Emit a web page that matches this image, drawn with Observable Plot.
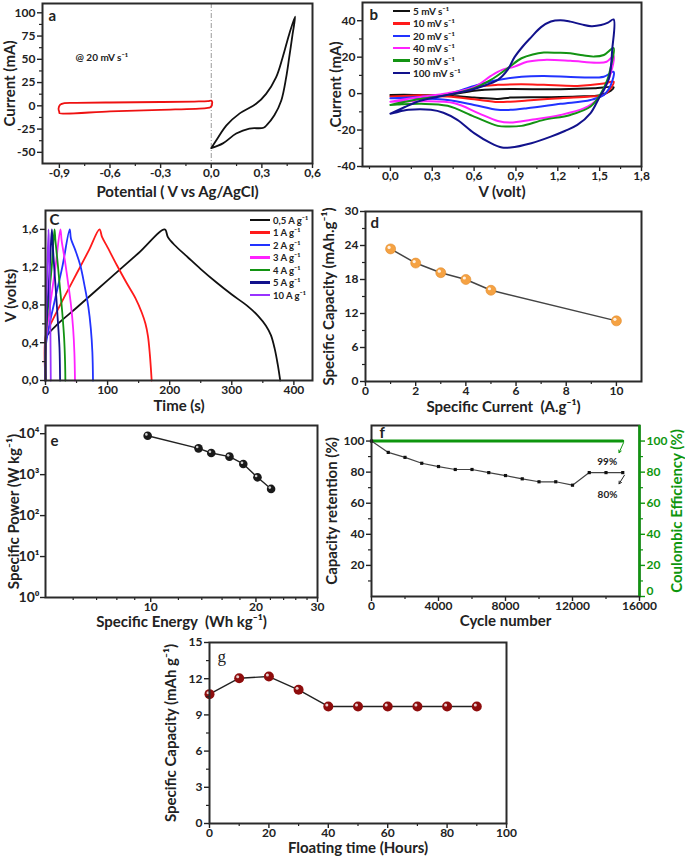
<!DOCTYPE html>
<html><head><meta charset="utf-8">
<script src="https://cdn.jsdelivr.net/npm/d3@7"></script>
<script src="https://cdn.jsdelivr.net/npm/@observablehq/plot@0.6"></script>
<style>
html,body{margin:0;padding:0;background:#fff;}
#fig{position:relative;width:685px;height:860px;overflow:hidden;background:#fff;font-family:Lato,sans-serif;}
</style></head>
<body><div id="fig"></div>
<script>
// ---------- Panel a : CV vs Ag/AgCl (V, mA) ----------
const cvNegAgCl = [[-0.9,-6.8],[-0.905,-3],[-0.895,1.2],[-0.87,2.9],[-0.8,3.2],[-0.6,3.6],[-0.3,4.1],[-0.1,4.6],[-0.02,5],[0.0,5.6],[0.006,3.5],[-0.004,-1.4],[-0.03,-2.4],[-0.3,-4.3],[-0.6,-5.9],[-0.9,-7.8],[-0.9,-6.8]];
const cvPosAgCl = [[0,-45.5],[0.03,-37],[0.09,-21],[0.167,-8.4],[0.266,2.2],[0.325,12.9],[0.384,30.6],[0.423,52],[0.462,77],[0.497,96],[0.482,77],[0.462,52],[0.444,30.6],[0.415,5.8],[0.374,-10.2],[0.33,-20.5],[0.31,-23.6],[0.226,-24.4],[0.148,-29.8],[0.069,-40.4],[0,-45.5]];
const refLineA = [0];
const xTicksA = [-0.9,-0.6,-0.3,0,0.3,0.6], xMinorA = [-0.75,-0.45,-0.15,0.15,0.45];
const yTicksA = [-50,-25,0,25,50,75,100], yMinorA = [-37.5,-12.5,12.5,37.5,62.5,87.5];

// ---------- Panel b : CV at scan rates (V, mA) ----------
const scanNames = ["5 mV s\u207B\u00B9","10 mV s\u207B\u00B9","20 mV s\u207B\u00B9","40 mV s\u207B\u00B9","50 mV s\u207B\u00B9","100 mV s\u207B\u00B9"];
const scanColors = ["#111111","#ff1a1a","#2233ff","#ff22ff","#139313","#12128c"];
const cv5 = [[0,-0.7],[0.41,-0.7],[0.6,1.6],[0.77,2.4],[1.22,2.4],[1.46,2.9],[1.6,3.5],[1.58,1.6],[1.51,-0.7],[1.34,-1.6],[1.1,-2],[0.86,-2.2],[0.77,-2.9],[0.6,-2.2],[0.41,-1.1],[0.17,-0.7],[0,-0.7]];
const cv10 = [[0,-1.6],[0.17,-1],[0.41,-0.5],[0.6,3.5],[0.77,4.8],[0.94,5.1],[1.1,4.8],[1.34,4.2],[1.53,5.5],[1.6,6.6],[1.58,3],[1.53,-0.7],[1.435,-1.6],[1.22,-2.5],[0.98,-3.8],[0.86,-4.4],[0.77,-4.6],[0.6,-3.1],[0.41,-1.6],[0.17,-1.3],[0,-1.6]];
const cv20 = [[0,-2.5],[0.17,-2],[0.41,-0.2],[0.6,4.2],[0.77,7.5],[0.94,9.3],[1.1,9.7],[1.34,9],[1.53,9.3],[1.6,12],[1.58,4.8],[1.53,-0.7],[1.435,-3.5],[1.22,-5.6],[0.98,-8],[0.86,-8.9],[0.77,-8.9],[0.6,-6.2],[0.41,-3.5],[0.17,-2.6],[0,-2.5]];
const cv40 = [[0,-4.4],[0.2,-2],[0.41,0.2],[0.6,3.5],[0.72,9.7],[0.8,13],[0.89,14.8],[0.98,17.5],[1.1,18.5],[1.29,18],[1.48,17],[1.55,17.5],[1.6,20.7],[1.58,11.2],[1.54,3.8],[1.48,-3.5],[1.39,-8],[1.22,-11.7],[1.01,-14.4],[0.86,-15.9],[0.77,-15],[0.63,-10.7],[0.46,-5.3],[0.22,-4.2],[0,-4.4]];
const cv50 = [[0,-6.2],[0.17,-3.5],[0.41,-0.7],[0.6,3],[0.72,7.5],[0.84,13.9],[0.94,19.4],[1.02,21.5],[1.1,22.5],[1.2,22.4],[1.29,22.1],[1.38,21],[1.46,20.3],[1.53,21.2],[1.6,25],[1.58,14.8],[1.555,7.5],[1.51,0.2],[1.435,-7.1],[1.29,-11.7],[1.1,-14.4],[0.94,-17.7],[0.84,-18.1],[0.77,-17.7],[0.6,-12.6],[0.41,-6.7],[0.22,-5.6],[0.05,-6],[0,-6.2]];
const cv100 = [[0,-11],[0.1,-7.5],[0.22,-3.8],[0.41,-0.7],[0.55,1.5],[0.65,3.8],[0.77,7.5],[0.84,13],[0.89,20],[0.95,26],[1.01,31],[1.08,36.5],[1.15,39.6],[1.22,40.3],[1.29,39.5],[1.37,38],[1.44,37],[1.51,37.6],[1.56,39],[1.6,40.7],[1.59,24],[1.57,9.3],[1.53,2],[1.495,-2.5],[1.435,-10.7],[1.34,-17.2],[1.25,-20.5],[1.15,-23.6],[1.01,-27.2],[0.86,-29.6],[0.8,-29.6],[0.72,-27.2],[0.6,-21.7],[0.48,-14.4],[0.38,-10.5],[0.29,-8.9],[0.13,-8.9],[0.03,-10.5],[0,-11]];
const cvScans = [cv5,cv10,cv20,cv40,cv50,cv100];
const xTicksB = [0,0.3,0.6,0.9,1.2,1.5,1.8], xMinorB = [-0.15,0.15,0.45,0.75,1.05,1.35,1.65];
const yTicksB = [-40,-20,0,20,40], yMinorB = [-30,-10,10,30];

// ---------- Panel c : GCD (s, V) ----------
const gcdNames = ["0,5 A g\u207B\u00B9","1 A g\u207B\u00B9","2 A g\u207B\u00B9","3 A g\u207B\u00B9","4 A g\u207B\u00B9","5 A g\u207B\u00B9","10 A g\u207B\u00B9"];
const gcdColors = ["#111111","#ff1a1a","#2233ff","#ff22ff","#139313","#12128c","#9933ff"];
const gcd05 = [[0,0],[0.5,0.42],[3,0.48],[20,0.6],[50,0.77],[100,1.06],[150,1.35],[192,1.6],[197,1.52],[207,1.44],[230,1.3],[250,1.18],[275,1.04],[300,0.91],[325,0.79],[343,0.68],[355,0.58],[363,0.48],[369,0.34],[374,0.17],[378,0]];
const gcd1 = [[0,0],[0.5,0.48],[10,0.62],[30,0.88],[50,1.13],[70,1.38],[87,1.6],[91,1.52],[100,1.41],[115,1.22],[130,1.04],[145,0.87],[155,0.72],[161,0.6],[165,0.47],[168,0.28],[171,0]];
const gcd2 = [[0,0],[0.3,0.35],[5,0.55],[15,0.85],[27,1.2],[39,1.6],[41,1.5],[48,1.38],[56,1.22],[63,1.0],[69,0.78],[73,0.55],[75.5,0.3],[76.5,0]];
const gcd3 = [[0,0],[0.3,0.4],[8,0.82],[16,1.2],[24,1.6],[26,1.48],[31,1.28],[36,1.05],[41,0.8],[44.5,0.55],[46.5,0.3],[47.5,0]];
const gcd4 = [[0,0],[0.2,0.4],[5,0.85],[10,1.2],[14.5,1.6],[16,1.48],[19.5,1.25],[23,1.0],[27,0.72],[30,0.45],[31.5,0.2],[32,0]];
const gcd5 = [[0,0],[0.2,0.4],[3.5,0.85],[7,1.2],[10.2,1.6],[11.5,1.45],[14,1.2],[17,0.92],[20,0.62],[22.5,0.35],[23.5,0]];
const gcd10 = [[0,0],[0.1,0.4],[2,0.95],[4.8,1.6],[5.5,1.42],[6.5,1.12],[7.4,0.78],[8,0.45],[8.5,0]];
const gcdCurves = [gcd05,gcd1,gcd2,gcd3,gcd4,gcd5,gcd10];
const xTicksC = [0,100,200,300,400], xMinorC = [50,150,250,350];
const yTicksC = [0,0.4,0.8,1.2,1.6], yMinorC = [0.2,0.6,1.0,1.4];

// ---------- Panel d ----------
const currentD = [1,2,3,4,5,10];
const capacityD = [23.4,20.9,19.2,18.0,16.1,10.7];
const xTicksD = [0,2,4,6,8,10], xMinorD = [1,3,5,7,9];
const yTicksD = [0,6,12,18,24,30], yMinorD = [3,9,15,21,27];

// ---------- Panel e ----------
const energyE = [9.8,13.7,14.9,16.8,18.4,20.2,22.1];
const powerE = [8930,4380,3380,2750,1820,860,448];
const xTicksE = [10,20,30], xMinorE = [6,7,8,9,12,14,16,18,22,24,26,28];
const yTicksE = [1,10,100,1000,10000];

// ---------- Panel f ----------
const cycles = [0,1000,2000,3000,4000,5000,6000,7000,8000,9000,10000,11000,12000,13000,14000,15000];
const retention = [100,92.7,89.5,85.7,83.6,81.7,81.7,79.7,77.8,75.7,73.8,73.8,71.6,79.7,79.7,79.7];
const ceCycles = [0,15000];
const coulombic = [100,100];
const xDomainF = [0,16000];
const xTicksF = [0,4000,8000,12000,16000], xMinorF = [2000,6000,10000,14000];
const yTicksF = [20,40,60,80,100], yTicksFR = [20,40,60,80,100], yZeroFR = [0], yMinorF = [10,30,50,70,90];
const noteTextF = ["99%","80%"], noteXF = [14070,14090], noteYF = [86.7,65.4];
const arrowsF = [{x1:15050,y1:99,x2:14780,y2:92.5,c:"#0e960e"},{x1:15100,y1:78,x2:14780,y2:72.5,c:"#222"}];

// ---------- Panel g ----------
const floatHours = [0,10,20,30,40,50,60,70,80,90];
const capacityG = [10.72,12.04,12.18,11.08,9.7,9.7,9.7,9.7,9.7,9.7];
const xTicksG = [0,20,40,60,80,100], xMinorG = [10,30,50,70,90];
const yTicksG = [0,3,6,9,12,15], yMinorG = [1.5,4.5,7.5,10.5,13.5];

// ================= drawing =================
const fig = document.getElementById("fig");
const GREEN = "#0e960e";
const comma = d => d.toFixed(1).replace(".", ",");
const plain = d => String(d);
const sup = {"0":"\u2070","1":"\u00B9","2":"\u00B2","3":"\u00B3","4":"\u2074"};
const FONT = "Lato, 'Open Sans', sans-serif";

function panel({box, m, x, y, marks}) {
  const [L,T,R,B] = box, [mt,mr,mb,ml] = m;
  const svg = Plot.plot({
    width: R-L+ml+mr, height: B-T+mt+mb,
    marginTop: mt, marginRight: mr, marginBottom: mb, marginLeft: ml,
    x, y,
    style: {background:"transparent", overflow:"visible", fontFamily: FONT, fontWeight:"bold", fontSize:"12px", color:"#222", maxWidth:"none"},
    marks
  });
  svg.style.position = "absolute";
  svg.style.left = (L-ml) + "px";
  svg.style.top = (T-mt) + "px";
  fig.appendChild(svg);
}
const axX = (ticks, minor, fmt, o={}) => [
  Plot.axisX({ticks, tickFormat: fmt, tickSize:5, tickPadding:0, label:null, strokeWidth:1.4, ...o}),
  Plot.axisX({ticks: minor, tickFormat: () => "", tickSize:3, label:null, strokeWidth:1.2, ...o})
];
const axY = (ticks, minor, fmt, o={}) => [
  Plot.axisY({ticks, tickFormat: fmt, tickSize:5, tickPadding:2, label:null, strokeWidth:1.4, ...o}),
  Plot.axisY({ticks: minor, tickFormat: () => "", tickSize:3, label:null, strokeWidth:1.2, ...o})
];
const frame = () => Plot.frame({stroke:"#2a2a2a", strokeWidth:2});
const xTitle = (t, dy, o={}) => Plot.text([t], {text: d => d, frameAnchor:"bottom", textAnchor:"middle", lineAnchor:"middle", dy, fontSize:15, fontWeight:"bold", fill:"#222", ...o});
const yTitle = (t, dx, o={}) => Plot.text([t], {text: d => d, frameAnchor:"left", textAnchor:"middle", lineAnchor:"middle", dx, rotate:-90, fontSize:15, fontWeight:"bold", fill:"#222", ...o});
const letter = (t, dx, dy, o={}) => Plot.text([t], {text: d => d, frameAnchor:"top-left", textAnchor:"start", lineAnchor:"middle", dx, dy, fontSize:15, fontWeight:"bold", fill:"#222", ...o});
const P0 = d => d[0], P1 = d => d[1];

function legend(names, colors, left, top, rowH, swW, fs) {
  const div = document.createElement("div");
  div.style.cssText = `position:absolute;left:${left}px;top:${top}px;font:bold ${fs}px ${FONT};color:#222;white-space:nowrap;`;
  names.forEach((n,i) => {
    const r = document.createElement("div");
    r.style.cssText = `height:${rowH}px;display:flex;align-items:center;`;
    r.innerHTML = `<span style="display:inline-block;width:${swW}px;height:2.5px;background:${colors[i]};margin-right:3px"></span>${n}`;
    div.appendChild(r);
  });
  fig.appendChild(div);
}

// Panel a
panel({box:[42,3,312,163], m:[3,14,37,42],
  x:{domain:[-1.0,0.6]}, y:{domain:[-62,110]},
  marks:[
    Plot.ruleX(refLineA, {stroke:"#999", strokeWidth:1, strokeDasharray:"5,2,1,2"}),
    Plot.line(cvNegAgCl, {x:P0, y:P1, stroke:"#ee1111", strokeWidth:1.8, curve:"catmull-rom"}),
    Plot.line(cvPosAgCl, {x:P0, y:P1, stroke:"#111", strokeWidth:1.8, curve:"catmull-rom"}),
    ...axX(xTicksA, xMinorA, comma), ...axY(yTicksA, yMinorA, plain),
    frame(),
    letter("a", 6, 13),
    Plot.text(["@ 20 mV s\u207B\u00B9"], {text:d=>d, frameAnchor:"top-left", textAnchor:"start", lineAnchor:"middle", dx:33, dy:54, fontSize:10, fontWeight:"bold", fill:"#222"}),
    xTitle("Potential ( V vs Ag/AgCl)", 29),
    yTitle("Current (mA)", -32)
  ]});

// Panel b
panel({box:[362,2,641,166], m:[2,44,38,32],
  x:{domain:[-0.2,1.8]}, y:{domain:[-40,50]},
  marks:[
    ...cvScans.map((s,i) => Plot.line(s, {x:P0, y:P1, stroke:scanColors[i], strokeWidth:2, curve:"catmull-rom"})),
    ...axX(xTicksB, xMinorB, comma), ...axY(yTicksB, yMinorB, plain),
    frame(),
    letter("b", 7, 13),
    xTitle("V (volt)", 26),
    yTitle("Current (mA)", -26)
  ]});
legend(scanNames, scanColors, 393, 4.8, 12.4, 17, 10);

// Panel c
panel({box:[45,210,312,380], m:[10,10,34,45],
  x:{domain:[0,430]}, y:{domain:[0,1.8]},
  marks:[
    ...gcdCurves.map((s,i) => Plot.line(s, {x:P0, y:P1, stroke:gcdColors[i], strokeWidth:1.8, curve:"catmull-rom"})),
    ...axX(xTicksC, xMinorC, plain), ...axY(yTicksC, yMinorC, comma),
    frame(),
    letter("C", 4, 10),
    xTitle("Time (s)", 26),
    yTitle("V (volts)", -34)
  ]});
legend(gcdNames, gcdColors, 250, 213.8, 12.5, 20, 9.5);

// Panel d
panel({box:[365,211,641,381], m:[10,40,32,45],
  x:{domain:[0,11]}, y:{domain:[0,30]},
  marks:[
    Plot.line(currentD.map((c,i)=>[c,capacityD[i]]), {x:P0, y:P1, stroke:"#444", strokeWidth:1.5}),
    Plot.dot(currentD.map((c,i)=>[c,capacityD[i]]), {x:P0, y:P1, r:5, fill:"#f5a243", stroke:"#e08a2a", strokeWidth:0.6}),
    Plot.dot(currentD.map((c,i)=>[c,capacityD[i]]), {x:P0, y:P1, r:1.6, fill:"#fff", fillOpacity:0.85, dx:-1.5, dy:-1.5}),
    ...axX(xTicksD, xMinorD, plain), ...axY(yTicksD, yMinorD, plain),
    frame(),
    letter("d", 5, 12),
    xTitle("Specific Current  (A.g\u207B\u00B9)", 26),
    yTitle("Specific Capacity (mAh.g\u207B\u00B9)", -36)
  ]});

// Panel e
panel({box:[45,425,317,597], m:[10,12,32,45],
  x:{type:"log", domain:[5,30]}, y:{type:"log", domain:[1,15849]},
  marks:[
    Plot.line(energyE.map((e,i)=>[e,powerE[i]]), {x:P0, y:P1, stroke:"#222", strokeWidth:1.4}),
    Plot.dot(energyE.map((e,i)=>[e,powerE[i]]), {x:P0, y:P1, r:4.3, fill:"#1a1a1a"}),
    Plot.dot(energyE.map((e,i)=>[e,powerE[i]]), {x:P0, y:P1, r:1.3, fill:"#fff", fillOpacity:0.8, dx:-1.3, dy:-1.3}),
    ...axX(xTicksE, xMinorE, plain),
    Plot.axisY({ticks: yTicksE, tickFormat: d => "10" + sup[String(Math.round(Math.log10(d)))], tickSize:5, tickPadding:1, label:null, strokeWidth:1.4, fontSize:14}),
    frame(),
    letter("e", 5, 16),
    xTitle("Specific Energy  (Wh kg\u207B\u00B9)", 25),
    yTitle("Specific Power (W kg\u207B\u00B9)", -31)
  ]});

// Panel f
panel({box:[371,425,639,596], m:[10,46,32,50],
  x:{domain:xDomainF}, y:{domain:[0,110]},
  marks:[
    Plot.line(ceCycles.map((c,i)=>[c,coulombic[i]]), {x:P0, y:P1, stroke:GREEN, strokeWidth:3}),
    Plot.line(cycles.map((c,i)=>[c,retention[i]]), {x:P0, y:P1, stroke:"#444", strokeWidth:1.2}),
    Plot.dot(cycles.map((c,i)=>[c,retention[i]]), {x:P0, y:P1, symbol:"square", r:1.8, fill:"#111"}),
    Plot.arrow(arrowsF, {x1:"x1", y1:"y1", x2:"x2", y2:"y2", stroke:"c", strokeWidth:1, headLength:4}),
    Plot.text(noteTextF.map((t,i)=>[noteXF[i],noteYF[i],t]), {x:P0, y:P1, text:d=>d[2], fontSize:10, fontWeight:"bold", fill:"#222"}),
    ...axX(xTicksF, xMinorF, plain),
    ...axY(yTicksF, yMinorF, plain),
    ...axY(yTicksFR, yMinorF, plain, {anchor:"right", color:GREEN}),
    Plot.axisY({anchor:"right", ticks: yZeroFR, tickSize:5, strokeWidth:1.4, tickFormat: () => "", label:null, color:GREEN}),
    Plot.axisY({anchor:"right", ticks: yZeroFR, tickSize:5, tickPadding:2, strokeWidth:0, tickFormat: plain, label:null, color:GREEN, dy:-5}),
    frame(),
    Plot.ruleX([xDomainF[1]], {stroke:GREEN, strokeWidth:2.5}),
    letter("f", 8, 8),
    xTitle("Cycle number", 25),
    yTitle("Capacity retention (%)", -39),
    Plot.text(["Coulombic Efficiency (%)"], {text:d=>d, frameAnchor:"right", textAnchor:"middle", lineAnchor:"middle", dx:38, rotate:-90, fontSize:15, fontWeight:"bold", fill:GREEN})
  ]});

// Panel g
panel({box:[209,642,506,823], m:[10,20,37,50],
  x:{domain:[0,100]}, y:{domain:[0,15]},
  marks:[
    Plot.line(floatHours.map((h,i)=>[h,capacityG[i]]), {x:P0, y:P1, stroke:"#222", strokeWidth:1.4}),
    Plot.dot(floatHours.map((h,i)=>[h,capacityG[i]]), {x:P0, y:P1, r:5, fill:"#8e0d0d"}),
    Plot.dot(floatHours.map((h,i)=>[h,capacityG[i]]), {x:P0, y:P1, r:1.5, fill:"#fff", fillOpacity:0.8, dx:-1.5, dy:-1.5}),
    ...axX(xTicksG, xMinorG, plain), ...axY(yTicksG, yMinorG, plain),
    frame(),
    letter("g", 8, 14, {fontFamily:"Liberation Serif, serif", fontWeight:"normal", fontSize:17}),
    xTitle("Floating time (Hours)", 25),
    yTitle("Specific Capacity (mAh g\u207B\u00B9)", -38)
  ]});
</script>
</body></html>
